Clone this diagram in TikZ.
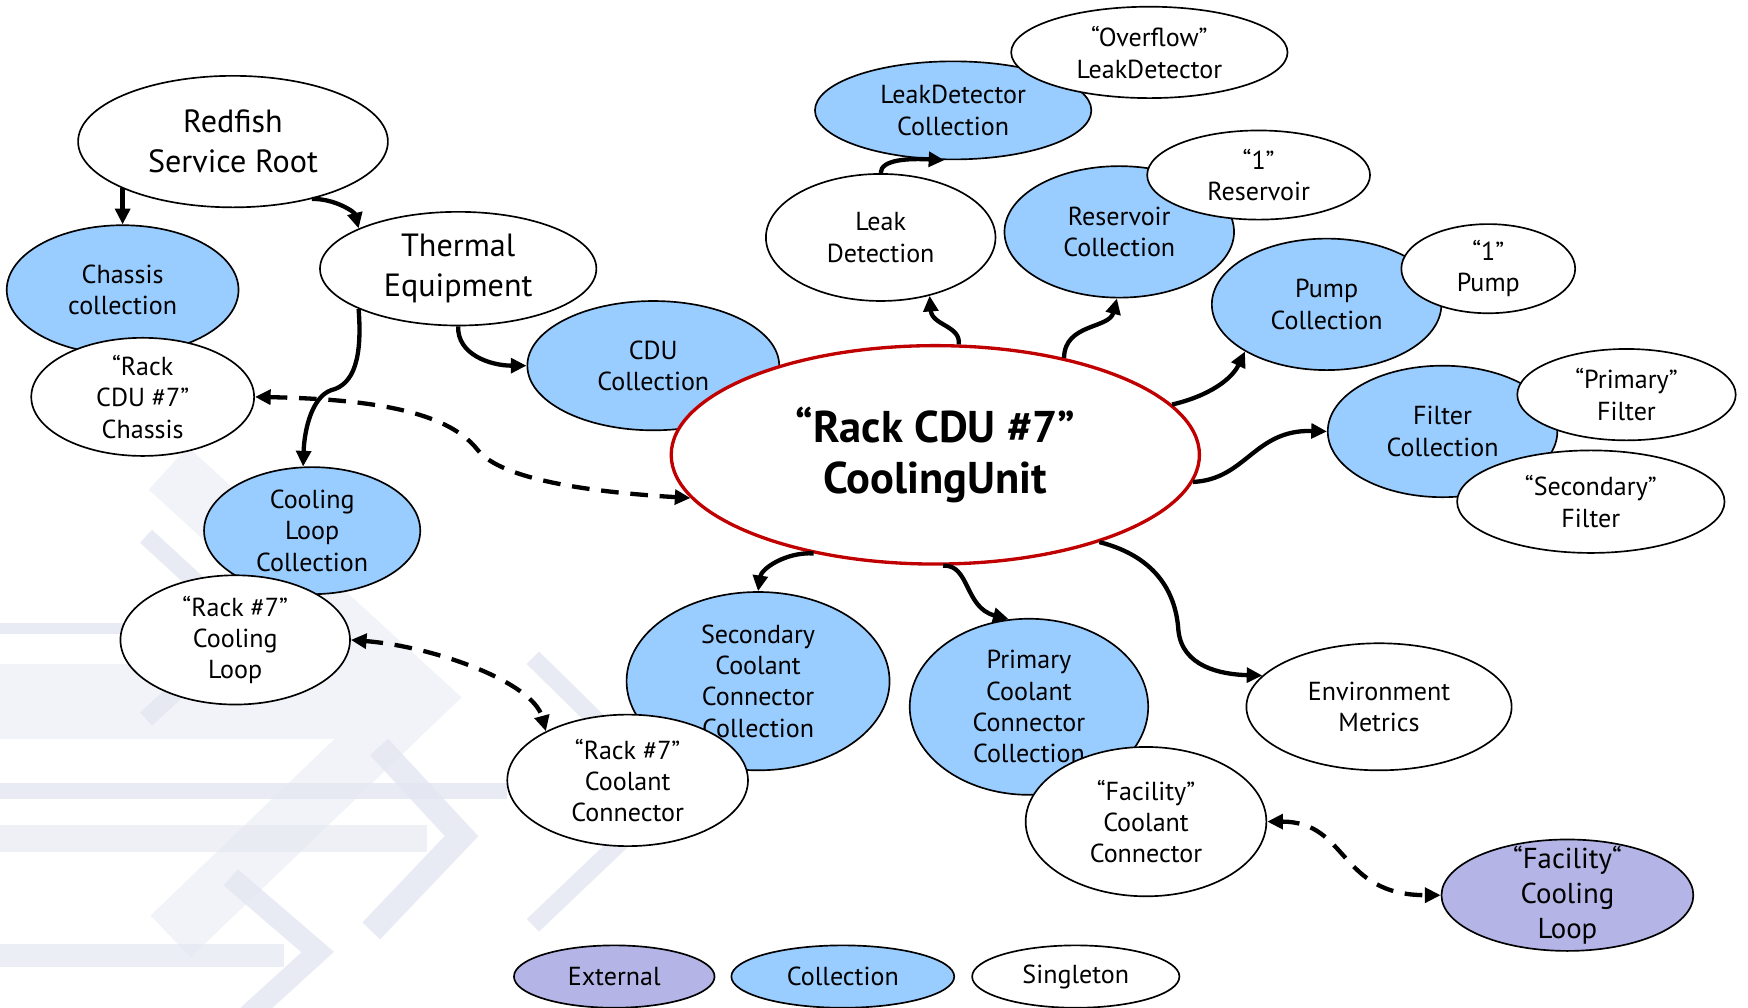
\documentclass[tikz,border=0pt]{standalone}
\usepackage{fontspec}
\setmainfont{PT Sans}
\usetikzlibrary{arrows.meta,shapes.geometric,calc}
\definecolor{collblue}{HTML}{99CCFF}
\definecolor{extpurple}{HTML}{B4B4E6}
\definecolor{cured}{HTML}{C00000}
\definecolor{bgA}{HTML}{F2F3F8}
\definecolor{bgB}{HTML}{E3E7F1}
\begin{document}
\begin{tikzpicture}[x=0.02cm,y=-0.02cm,
  ell/.style={ellipse, draw=black, line width=0.85pt, inner sep=0pt},
  sz/.style 2 args={minimum width=#1*0.04cm, minimum height=#2*0.04cm},
  single/.style={ell, fill=white},
  coll/.style={ell, fill=collblue},
  extn/.style={ell, fill=extpurple},
  txt/.style={align=center, inner sep=0pt, font=\fontsize{13.3}{16}\selectfont},
  bigtxt/.style={align=center, inner sep=0pt, font=\fontsize{16.4}{20.5}\selectfont},
  midtxt/.style={align=center, inner sep=0pt, font=\fontsize{14.7}{18}\selectfont},
  maintxt/.style={align=center, inner sep=0pt, font=\fontsize{22.7}{26}\selectfont\bfseries},
  tip/.tip={Triangle[length=8pt,width=7.5pt]},
  conn/.style={line width=2.2pt, -tip},
  dconn/.style={line width=2.2pt, dash pattern=on 9pt off 6pt, tip-tip},
  bgline/.style={line cap=butt, line join=miter},
]
\useasboundingbox (0,0) rectangle (1568,904);
\fill[white] (0,0) rectangle (1568,904);

% ---------- background decoration ----------
\fill[bgA] (0,596) rectangle (345,663);
\draw[bgA, bgline, line width=29.6pt] (151,420) -- (376,626) -- (153,840);
\fill[bgB, opacity=0.8] (0,559) rectangle (160,569);
\draw[bgB, bgline, line width=9pt, opacity=0.8] (131,481) -- (220,563) -- (131,645);
\fill[bgB, opacity=0.8] (0,702) rectangle (455,717);
\fill[bgB, opacity=0.6] (0,740) rectangle (383,764);
\draw[bgB, bgline, line width=12.5pt, opacity=0.8] (340,670) -- (414,750) -- (333,835);
\draw[bgB, bgline, line width=9pt, opacity=0.8] (478,590) -- (602,712) -- (478,830);
\fill[bgB, opacity=0.7] (0,847) rectangle (255,867);
\draw[bgB, bgline, line width=11pt, opacity=0.8] (207,787) -- (285,854) -- (207,925);

% ---------- nodes ----------
\node[single, sz={139}{59}] (root) at (209,127) {};
\node[bigtxt] (root-t) at (root) {Redfish\\Service Root};

\node[coll, sz={104}{58}] (chas) at (110,260) {};
\node[txt] (chas-t) at (chas) {Chassis\\collection};
\node[single, sz={100}{53}] (rcdu) at (128,356) {};
\node[txt] (rcdu-t) at (rcdu) {“Rack\\CDU \#7”\\Chassis};

\node[single, sz={124}{51}] (therm) at (411,241) {};
\node[bigtxt] (therm-t) at (therm) {Thermal\\Equipment};

\node[coll, sz={113}{58}] (cdu) at (586,328) {};
\node[txt] (cdu-t) at (cdu) {CDU\\Collection};

\node[ell, draw=cured, line width=1.7pt, fill=white, sz={237}{98}] (main) at (839,408) {};
\node[maintxt] (main-t) at (main) {“Rack CDU \#7”\\CoolingUnit};

\node[coll, sz={97}{57}] (clc) at (280,476) {};
\node[txt] (clc-t) at (clc) {Cooling\\Loop\\Collection};
\node[single, sz={103}{58}] (rcl) at (211,574) {};
\node[txt] (rcl-t) at (rcl) {“Rack \#7”\\Cooling\\Loop};

\node[coll, sz={124}{44}] (ldc) at (855,99) {};
\node[txt] (ldc-t) at (ldc) {LeakDetector\\Collection};
\node[single, sz={124}{41}] (ovf) at (1031,47) {};
\node[txt] (ovf-t) at (ovf) {“Overflow”\\LeakDetector};

\node[single, sz={103}{57}] (leak) at (790,213) {};
\node[txt] (leak-t) at (leak) {Leak\\Detection};

\node[coll, sz={103}{59}] (res) at (1004,208) {};
\node[txt] (res-t) at (res) {Reservoir\\Collection};
\node[single, sz={100}{40}] (r1) at (1129,157) {};
\node[txt] (r1-t) at (r1) {“1”\\Reservoir};

\node[coll, sz={103}{59}] (pump) at (1190,273) {};
\node[txt] (pump-t) at (pump) {Pump\\Collection};
\node[single, sz={78}{40}] (p1) at (1335,241) {};
\node[txt] (p1-t) at (p1) {“1”\\Pump};

\node[coll, sz={103}{59}] (filt) at (1294,387) {};
\node[txt] (filt-t) at (filt) {Filter\\Collection};
\node[single, sz={98}{41}] (pf) at (1459,354) {};
\node[txt] (pf-t) at (pf) {“Primary”\\Filter};
\node[single, sz={120}{46}] (sf) at (1427,450) {};
\node[txt] (sf-t) at (sf) {“Secondary”\\Filter};

\node[coll, sz={118}{80}] (scc) at (680,611) {};
\node[txt] (scc-t) at (scc) {Secondary\\Coolant\\Connector\\Collection};
\node[single, sz={108}{59}] (rcc) at (563,700) {};
\node[txt] (rcc-t) at (rcc) {“Rack \#7”\\Coolant\\Connector};

\node[coll, sz={107}{79}] (pcc) at (923,634) {};
\node[txt] (pcc-t) at (pcc) {Primary\\Coolant\\Connector\\Collection};
\node[single, sz={108}{67}] (fcc) at (1028,737) {};
\node[txt] (fcc-t) at (fcc) {“Facility”\\Coolant\\Connector};

\node[single, sz={119}{57}] (env) at (1237,634) {};
\node[txt] (env-t) at (env) {Environment\\Metrics};

\node[extn, sz={113}{50}] (fcl) at (1406,803) {};
\node[midtxt] (fcl-t) at (fcl) {“Facility“\\Cooling\\Loop};

% legend
\node[extn, sz={90}{28}] (lgext) at (551,876) {};
\node[txt] (lgext-t) at (lgext) {External};
\node[coll, sz={100}{28}] (lgcoll) at (756,876) {};
\node[txt] (lgcoll-t) at (lgcoll) {Collection};
\node[single, sz={93}{28}] (lgsing) at (965,876) {};
\node[txt] (lgsing-t) at (lgsing) {Singleton};

% ---------- connectors ----------
\draw[conn] (root.203 -| chas.north) -- (chas.north);
\draw[conn] (root.-36) .. controls (300,178) and (318,190) .. (therm.158);
\draw[conn] (therm.202) .. controls (325,320) and (318,345) .. (297,350)
             .. controls (280,356) and (273,385) .. (clc.98);
\draw[conn] (therm.south) .. controls (410,318) and (440,328) .. (cdu.west);
\draw[dconn] (rcdu.east) .. controls (330,358) and (400,368) .. (428,403)
             .. controls (450,432) and (540,442) .. (main.190);
\draw[conn] (main.78) .. controls (862,292) and (836,292) .. (leak.-50);
\draw[conn] (leak.north) .. controls (790,143) and (815,142) .. (ldc.-100);
\draw[conn] (main.37) .. controls (955,290) and (995,295) .. (res.-92);
\draw[conn] (main.12) .. controls (1085,355) and (1105,340) .. (pump.210);
\draw[conn] (main.-6) .. controls (1118,430) and (1125,385) .. (filt.west);
\draw[conn] (main.219) .. controls (705,495) and (683,510) .. (scc.north);
\draw[conn] (main.-86) .. controls (870,506) and (865,545) .. (pcc.103);
\draw[conn] (main.-28) .. controls (1040,500) and (1055,535) .. (1057,565)
             .. controls (1060,598) and (1095,605) .. (env.165);
\draw[dconn] (rcl.east) .. controls (390,580) and (478,612) .. (rcc.149);
\draw[dconn] (fcc.east) .. controls (1210,737) and (1200,803) .. (fcl.west);
\end{tikzpicture}
\end{document}
